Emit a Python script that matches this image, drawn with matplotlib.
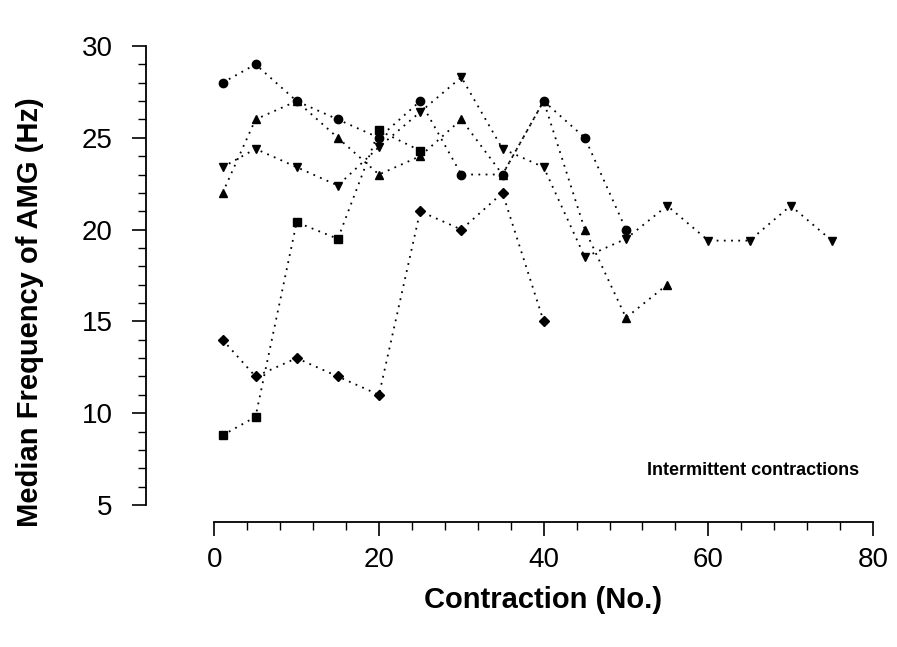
import matplotlib
matplotlib.use("Agg")
import matplotlib.pyplot as plt
from matplotlib.ticker import MultipleLocator, FixedLocator

plt.rcParams['font.family'] = ['Liberation Sans', 'DejaVu Sans']

# contraction numbers and median AMG frequency (Hz) per subject
x_circle = [1, 5, 10, 15, 20, 25, 30, 35, 40, 45, 50]
y_circle = [28, 29, 27, 26, 25.0, 27, 23, 23, 27, 25, 20]

x_up = [1, 5, 10, 15, 20, 25, 30, 35, 40, 45, 50, 55]
y_up = [22, 26, 27, 25, 23, 24, 26, 23, 27, 20, 15.2, 17]

x_down = [1, 5, 10, 15, 20, 25, 30, 35, 40, 45, 50, 55, 60, 65, 70, 75]
y_down = [23.4, 24.4, 23.4, 22.4, 24.5, 26.4, 28.3, 24.4, 23.4, 18.5, 19.5,
          21.3, 19.4, 19.4, 21.3, 19.4]

x_diamond = [1, 5, 10, 15, 20, 25, 30, 35, 40]
y_diamond = [14, 12, 13, 12, 11, 21, 20, 22, 15]

x_square = [1, 5, 10, 15, 20, 25]
y_square = [8.8, 9.8, 20.4, 19.5, 25.4, 24.3]

series = [
    (x_circle, y_circle, 'o'),
    (x_up, y_up, '^'),
    (x_down, y_down, 'v'),
    (x_diamond, y_diamond, 'D'),
    (x_square, y_square, 's'),
]

fig = plt.figure(figsize=(8.97, 6.47), dpi=100)
ax = fig.add_axes([146 / 897, 1 - 505 / 647, (873 - 146) / 897, (505 - 46) / 647])

dots = (0, (1, 3))
for xs, ys, m in series:
    ms = 5 if m == 'D' else 6
    ax.plot(xs, ys, color='black', linestyle=dots, linewidth=1.3,
            marker=m, markersize=ms, markerfacecolor='black', markeredgecolor='black')

ax.set_xlim(-8.3, 80)
ax.set_ylim(5, 30)

ax.spines['top'].set_visible(False)
ax.spines['right'].set_visible(False)
ax.spines['bottom'].set_position(('outward', 12))
ax.spines['bottom'].set_bounds(0, 80)
ax.spines['left'].set_bounds(5, 30)
ax.spines['left'].set_linewidth(1.3)
ax.spines['bottom'].set_linewidth(1.3)

ax.xaxis.set_major_locator(FixedLocator([0, 20, 40, 60, 80]))
ax.xaxis.set_minor_locator(FixedLocator(list(range(0, 81, 4))))
ax.yaxis.set_major_locator(MultipleLocator(5))
ax.yaxis.set_minor_locator(MultipleLocator(1))

ax.tick_params(axis='both', which='major', direction='out', length=10, width=1.2,
               labelsize=20, pad=8)
ax.tick_params(axis='both', which='minor', direction='out', length=6, width=1.0)
ax.tick_params(axis='y', which='major', pad=14)

fig.text(30 / 897, 1 - 312 / 647, 'Median Frequency of AMG (Hz)', rotation=90,
         ha='center', va='center', fontsize=21, fontweight='bold')
fig.text(543 / 897, 1 - 600 / 647, 'Contraction (No.)', ha='center', va='center',
         fontsize=21, fontweight='bold')
ax.text(78.3, 6.9, 'Intermittent contractions', ha='right', va='center',
        fontsize=13, fontweight='bold')

fig.savefig('out.png', dpi=100)
